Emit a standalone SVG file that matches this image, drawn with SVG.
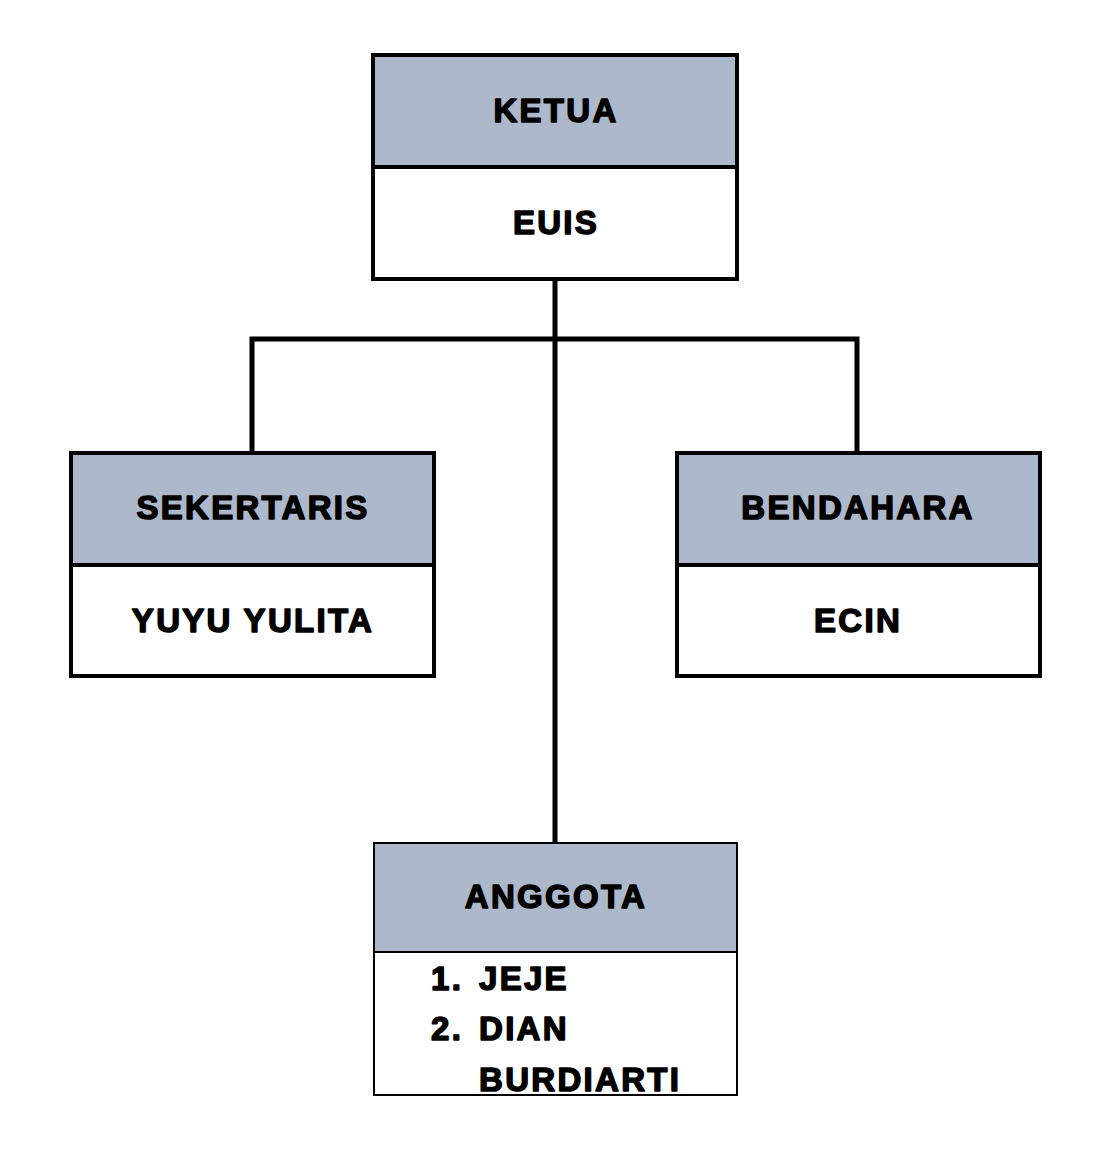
<svg xmlns="http://www.w3.org/2000/svg" width="1118" height="1167" viewBox="0 0 1118 1167">
<style>
.hd{fill:#ADB9CA;stroke:#000;stroke-width:4}
.bd{fill:#fff;stroke:#000;stroke-width:4}
.hd2{fill:#ADB9CA;stroke:#000;stroke-width:2}
.bd2{fill:#fff;stroke:#000;stroke-width:2}
.t{font-family:"Liberation Sans",Arial,sans-serif;font-weight:bold;font-size:33px;fill:#000;stroke:#000;stroke-width:1.5;stroke-linejoin:round;letter-spacing:2.3px}
.c{text-anchor:middle}
.ln{fill:none;stroke:#000;stroke-width:5}
</style>
<rect width="1118" height="1167" fill="#fff"/>
<g id="connectors">
<line class="ln" x1="555" y1="280" x2="555" y2="842"/>
<polyline class="ln" points="252,452 252,339 857,339 857,452"/>
</g>
<g id="ketua">
<rect class="hd" x="373" y="55" width="364" height="112"/>
<rect class="bd" x="373" y="167" width="364" height="112"/>
<text class="t c" x="556" y="122">KETUA</text>
<text class="t c" x="556" y="234">EUIS</text>
</g>
<g id="sekertaris">
<rect class="hd" x="71" y="453" width="363" height="112"/>
<rect class="bd" x="71" y="565" width="363" height="111"/>
<text class="t c" x="253" y="519">SEKERTARIS</text>
<text class="t c" x="253" y="632">YUYU YULITA</text>
</g>
<g id="bendahara">
<rect class="hd" x="677" y="453" width="363" height="112"/>
<rect class="bd" x="677" y="565" width="363" height="111"/>
<text class="t c" x="858" y="519">BENDAHARA</text>
<text class="t c" x="858" y="632">ECIN</text>
</g>
<g id="anggota">
<rect class="hd2" x="374" y="843" width="363" height="109"/>
<rect class="bd2" x="374" y="952" width="363" height="143"/>
<text class="t c" x="556" y="908">ANGGOTA</text>
<text class="t" x="431" y="990">1.</text>
<text class="t" x="479" y="990">JEJE</text>
<text class="t" x="431" y="1040">2.</text>
<text class="t" x="479" y="1040">DIAN</text>
<text class="t" x="479" y="1091">BURDIARTI</text>
</g>
</svg>
